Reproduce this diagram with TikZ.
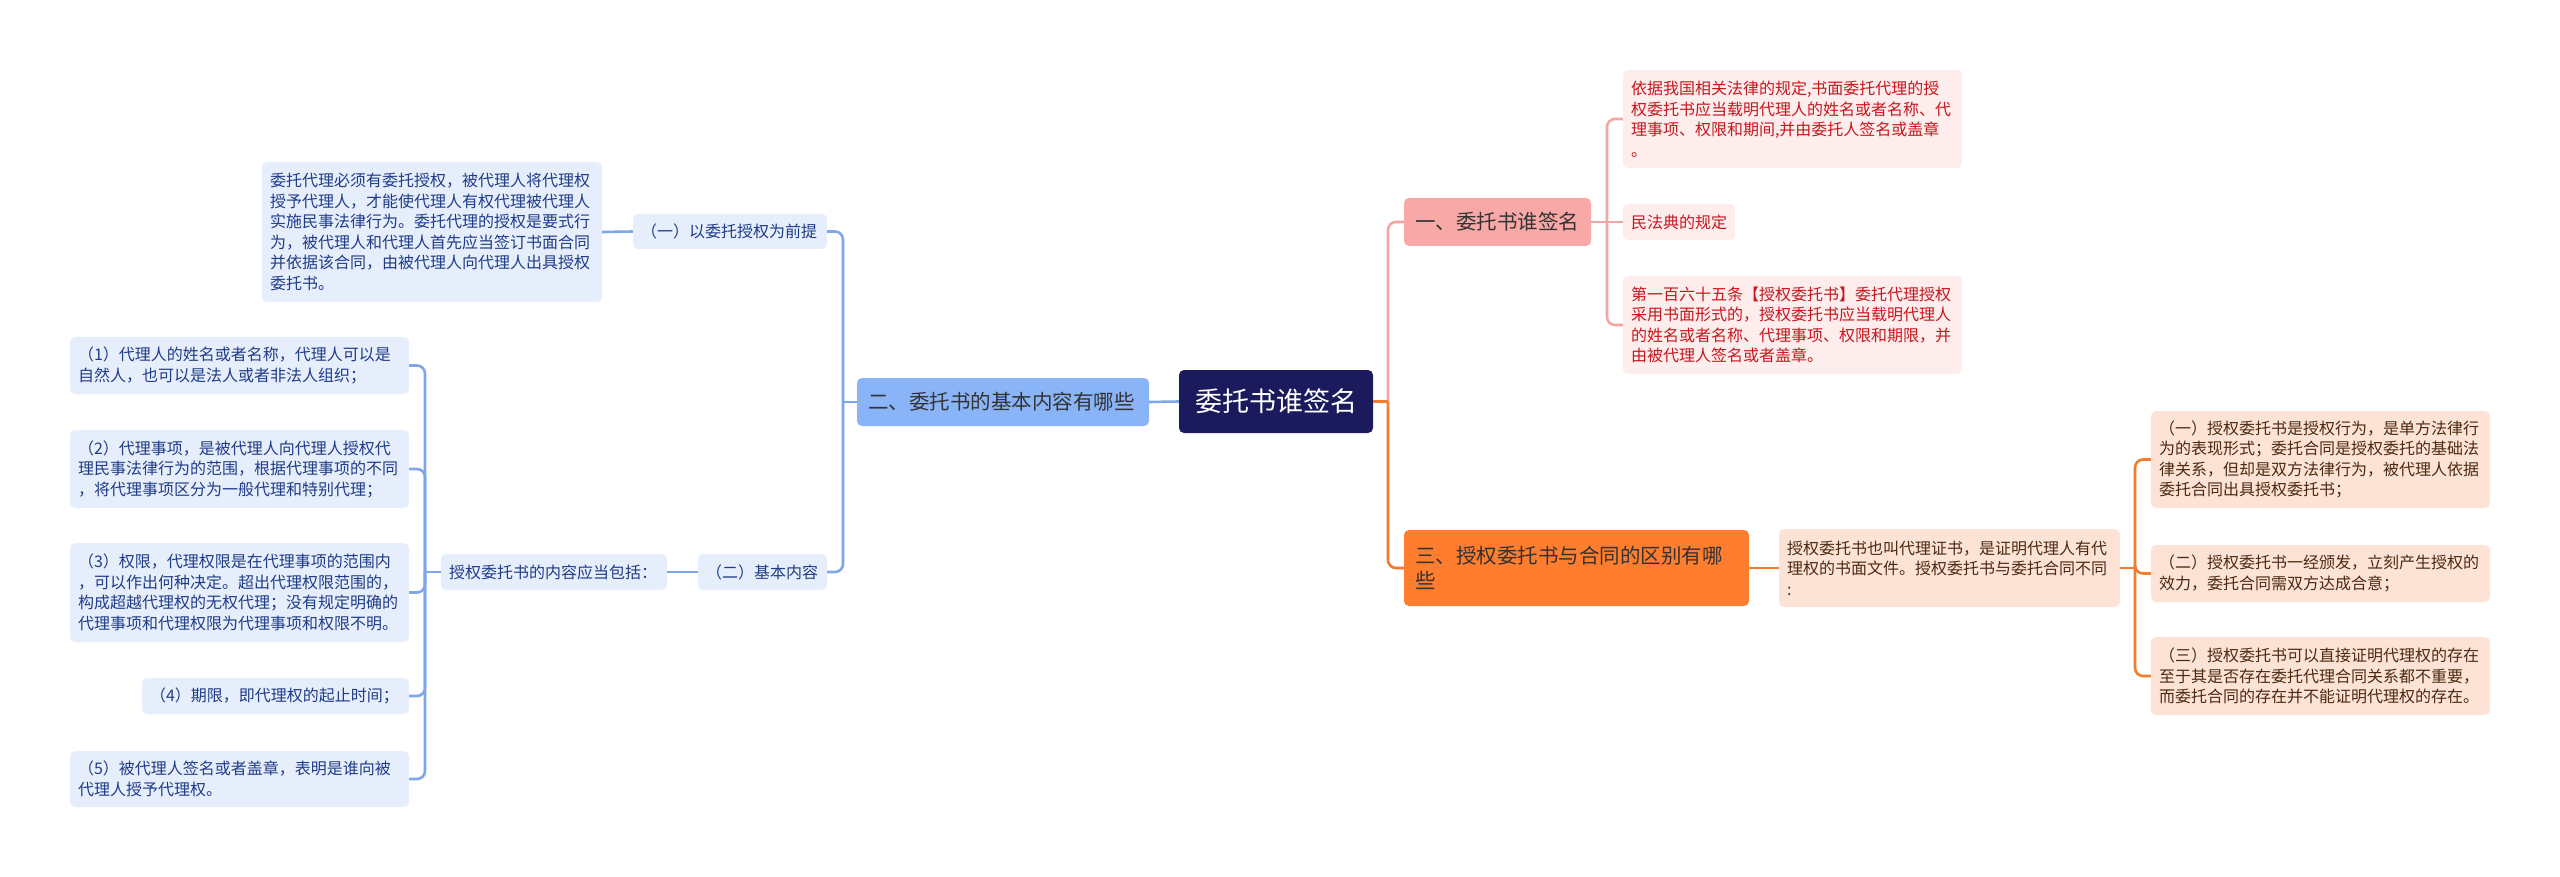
\documentclass[tikz,border=0pt]{standalone}
\usepackage{fontspec}
\setmainfont{Noto Sans CJK SC}
\definecolor{rootfill}{HTML}{1B1A5C}
\definecolor{bline}{HTML}{7EA6EA}
\definecolor{bmain}{HTML}{8AB4F8}
\definecolor{bsubfill}{HTML}{E6EEFC}
\definecolor{bsubtext}{HTML}{1F3C88}
\definecolor{pline}{HTML}{F3A5A1}
\definecolor{pmain}{HTML}{F8A8A6}
\definecolor{psubfill}{HTML}{FDEDED}
\definecolor{psubtext}{HTML}{C8161D}
\definecolor{oline}{HTML}{F27B2C}
\definecolor{omain}{HTML}{FF7D2E}
\definecolor{osubfill}{HTML}{FDE3D5}
\definecolor{osubtext}{HTML}{4B2A12}
\definecolor{maintext}{HTML}{333333}
\tikzset{
  box/.style={rounded corners=5pt, inner xsep=8pt, inner ysep=0pt, align=left,
    font=\fontsize{16}{20.5}\selectfont},
  bsub/.style={box, fill=bsubfill, text=bsubtext},
  psub/.style={box, fill=psubfill, text=psubtext},
  osub/.style={box, fill=osubfill, text=osubtext},
  mainbox/.style={rounded corners=5pt, inner xsep=11pt, inner ysep=0pt, align=left,
    font=\fontsize{20.5}{25}\selectfont, text=maintext},
  rootbox/.style={rounded corners=5pt, inner sep=0pt, fill=rootfill, text=white,
    font=\fontsize{27}{32}\selectfont, minimum width=194pt, minimum height=63pt},
  conn/.style={line width=2.6pt, rounded corners=8pt},
}
\begin{document}
\begin{tikzpicture}[x=1pt,y=-1pt]
\useasboundingbox (0,0) rectangle (2560,877);

% root
\node[rootbox] (root) at (1276,401.5) {委托书谁签名};

% main branches
\node[mainbox, fill=bmain, text width=270pt, minimum height=48pt] (b2) at (1003,402) {二、委托书的基本内容有哪些};
\node[mainbox, fill=pmain, text width=165pt, minimum height=48pt] (b1) at (1497.5,222) {一、委托书谁签名};
\node[mainbox, fill=omain, text width=323pt, minimum height=76pt] (b3) at (1576.5,568) {三、授权委托书与合同的区别有哪\\些};

% blue subtree
\node[bsub, text width=178pt, minimum height=35pt] (a1) at (730,231.5) {（一）以委托授权为前提};
\node[bsub, text width=324pt, minimum height=140pt] (a1t) at (432,232) {委托代理必须有委托授权，被代理人将代理权\\授予代理人，才能使代理人有权代理被代理人\\实施民事法律行为。委托代理的授权是要式行\\为，被代理人和代理人首先应当签订书面合同\\并依据该合同，由被代理人向代理人出具授权\\委托书。};
\node[bsub, text width=113pt, minimum height=36pt] (a2) at (762.5,572) {（二）基本内容};
\node[bsub, text width=210pt, minimum height=36pt] (a2t) at (554,572) {授权委托书的内容应当包括：};
\node[bsub, text width=323pt, minimum height=57pt] (i1) at (239.5,365.5) {（1）代理人的姓名或者名称，代理人可以是\\自然人，也可以是法人或者非法人组织；};
\node[bsub, text width=323pt, minimum height=78pt] (i2) at (239.5,469) {（2）代理事项，是被代理人向代理人授权代\\理民事法律行为的范围，根据代理事项的不同\\，将代理事项区分为一般代理和特别代理；};
\node[bsub, text width=323pt, minimum height=99pt] (i3) at (239.5,592.5) {（3）权限，代理权限是在代理事项的范围内\\，可以作出何种决定。超出代理权限范围的，\\构成超越代理权的无权代理；没有规定明确的\\代理事项和代理权限为代理事项和权限不明。};
\node[bsub, text width=251pt, minimum height=36pt] (i4) at (275.5,696) {（4）期限，即代理权的起止时间；};
\node[bsub, text width=323pt, minimum height=56pt] (i5) at (239.5,779) {（5）被代理人签名或者盖章，表明是谁向被\\代理人授予代理权。};

% pink subtree
\node[psub, text width=323pt, minimum height=98pt] (pA) at (1792.5,119) {依据我国相关法律的规定,书面委托代理的授\\权委托书应当载明代理人的姓名或者名称、代\\理事项、权限和期间,并由委托人签名或盖章\\。};
\node[psub, text width=96pt, minimum height=36pt] (pB) at (1679,222) {民法典的规定};
\node[psub, text width=323pt, minimum height=98pt] (pC) at (1792.5,325) {第一百六十五条【授权委托书】委托代理授权\\采用书面形式的，授权委托书应当载明代理人\\的姓名或者名称、代理事项、权限和期限，并\\由被代理人签名或者盖章。};

% orange subtree
\node[osub, text width=325pt, minimum height=78pt] (oD) at (1949.5,568) {授权委托书也叫代理证书，是证明代理人有代\\理权的书面文件。授权委托书与委托合同不同\\:};
\node[osub, text width=323pt, minimum height=97pt] (oE1) at (2320.5,459.5) {（一）授权委托书是授权行为，是单方法律行\\为的表现形式；委托合同是授权委托的基础法\\律关系，但却是双方法律行为，被代理人依据\\委托合同出具授权委托书；};
\node[osub, text width=323pt, minimum height=57pt] (oE2) at (2320.5,573.5) {（二）授权委托书一经颁发，立刻产生授权的\\效力，委托合同需双方达成合意；};
\node[osub, text width=323pt, minimum height=78pt] (oE3) at (2320.5,676) {（三）授权委托书可以直接证明代理权的存在\\至于其是否存在委托代理合同关系都不重要，\\而委托合同的存在并不能证明代理权的存在。};

% junction coordinates
\coordinate (jR) at (1388,401.5);
\coordinate (jB2) at (843,402);
\coordinate (jI) at (425,572);
\coordinate (jP) at (1607,222);
\coordinate (jO) at (2135,568);

% blue connectors
\draw[conn, bline] (root.west) -- (b2.east);
\draw[conn, bline] (b2.west) -- (jB2);
\draw[conn, bline] (jB2) |- (a1.east);
\draw[conn, bline] (jB2) |- (a2.east);
\draw[conn, bline] (a1.west) -- (a1t.east);
\draw[conn, bline] (a2.west) -- (a2t.east);
\draw[conn, bline] (a2t.west) -- (jI);
\draw[conn, bline] (jI) |- (i1.east);
\draw[conn, bline] (jI) |- (i2.east);
\draw[conn, bline] (jI) |- (i3.east);
\draw[conn, bline] (jI) |- (i4.east);
\draw[conn, bline] (jI) |- (i5.east);

% pink connectors
\draw[conn, pline] (jR) |- (b1.west);
\draw[conn, pline] (b1.east) -- (pB.west);
\draw[conn, pline] (jP) |- (pA.west);
\draw[conn, pline] (jP) |- (pC.west);

% orange connectors
\draw[conn, oline] (root.east) -- (jR);
\draw[conn, oline] (jR) |- (b3.west);
\draw[conn, oline] (b3.east) -- (oD.west);
\draw[conn, oline] (oD.east) -- (jO);
\draw[conn, oline] (jO) |- (oE1.west);
\draw[conn, oline] (jO) |- (oE2.west);
\draw[conn, oline] (jO) |- (oE3.west);
\end{tikzpicture}
\end{document}
